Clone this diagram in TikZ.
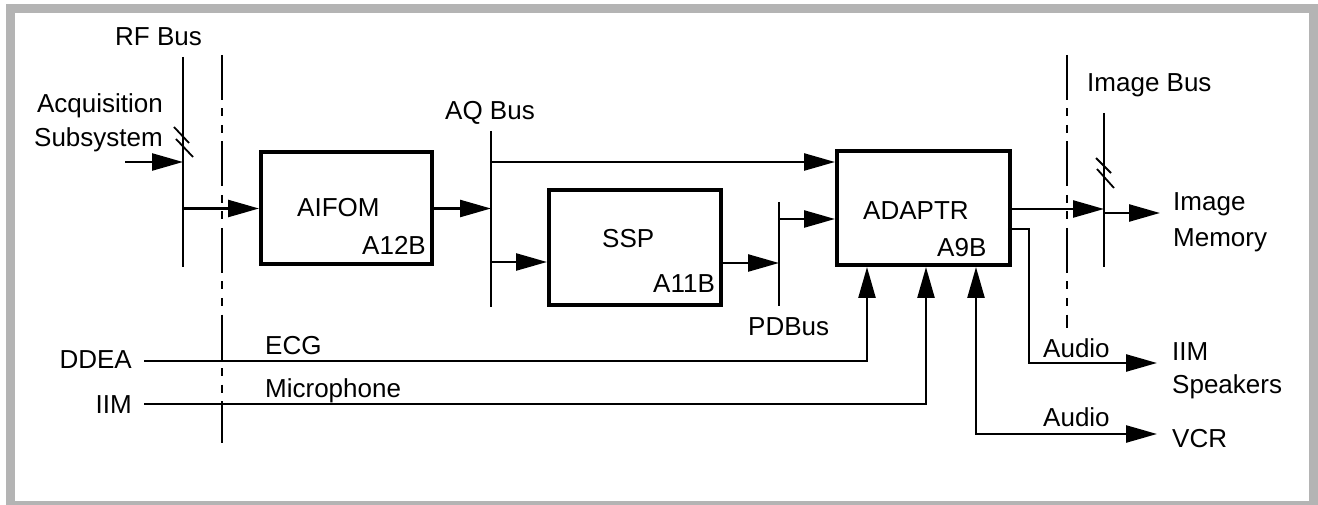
\documentclass[tikz,border=0pt]{standalone}
\usepackage{fontspec}
\setmainfont{Liberation Sans}
\usetikzlibrary{arrows.meta}
\definecolor{framegray}{RGB}{180,180,180}
\begin{document}
\begin{tikzpicture}[x=1pt,y=-1pt,
  wire/.style={line width=2.5pt},
  arr/.style={wire,-{Triangle[length=31pt,width=17pt]}},
  box/.style={draw,line width=4pt,inner sep=0pt},
  lbl/.style={inner sep=0pt,font=\fontsize{26}{32}\selectfont},
  busline/.style={line width=2.5pt},
  dashdot/.style={line width=1.6pt,dash pattern=on 45pt off 8.5pt on 8pt off 8.5pt on 8pt off 8.5pt},
  slash/.style={line width=1.8pt}]
\useasboundingbox (0,0) rectangle (1318,505);
\draw[line width=9pt,framegray] (10,8.5) rectangle (1313.5,505);

% boxes
\node[box,minimum width=171pt,minimum height=112pt] (aifom) at (346.5,208.5) {};
\node[box,minimum width=172pt,minimum height=115pt] (ssp) at (635,247.5) {};
\node[box,minimum width=173pt,minimum height=114pt] (adaptr) at (923.5,208) {};
\node[lbl,anchor=base west] (taifom) at (297,217) {AIFOM};
\node[lbl,anchor=base west] (naifom) at (362,255) {A12B};
\node[lbl,anchor=base west] (tssp) at (602,248) {SSP};
\node[lbl,anchor=base west] (nssp) at (653,293) {A11B};
\node[lbl,anchor=base west] (tadaptr) at (863,220) {ADAPTR};
\node[lbl,anchor=base west] (nadaptr) at (937,257) {A9B};

% buses
\coordinate (rfT) at (183,57);
\coordinate (rfB) at (183,267);
\draw[busline] (rfT) -- (rfB);
\node[lbl,anchor=base west] (rflbl) at (115,46) {RF Bus};
\coordinate (aqT) at (491,131);
\coordinate (aqB) at (491,307);
\draw[busline] (aqT) -- (aqB);
\node[lbl,anchor=base west] (aqlbl) at (445,120) {AQ Bus};
\coordinate (pdT) at (779,202);
\coordinate (pdB) at (779,306);
\draw[busline] (pdT) -- (pdB);
\node[lbl,anchor=base west] (pdlbl) at (748,335) {PDBus};
\coordinate (imT) at (1104,113);
\coordinate (imB) at (1104,267);
\draw[busline] (imT) -- (imB);
\node[lbl,anchor=base west] (imlbl) at (1087,92) {Image Bus};

% dash-dot boundaries
\coordinate (ddLT) at (222,55);
\coordinate (ddLB) at (222,443);
\draw[dashdot] (ddLT) -- (ddLB);
\coordinate (ddRT) at (1067,55);
\coordinate (ddRB) at (1067,328);
\draw[dashdot] (ddRT) -- (ddRB);

% slashes
\draw[slash] (174,127) -- (189,143);
\draw[slash] (176,139) -- (193,157);
\draw[slash] (1096,158) -- (1111,173);
\draw[slash] (1097,169) -- (1114,188);

% acquisition input
\node[lbl,anchor=base east] (acq1) at (163,113) {Acquisition};
\node[lbl,anchor=base east] (acq2) at (163,147) {Subsystem};
\coordinate (acqin) at (125,162);
\draw[arr] (acqin) -- (acqin -| rfT);

% RF bus -> AIFOM
\draw[arr] (rfT |- aifom.west) -- (aifom.west);
% AIFOM -> AQ bus
\draw[arr] (aifom.east) -- (aifom.east -| aqT);
% AQ bus -> ADAPTR
\coordinate (aq1) at (491,162);
\draw[arr] (aq1) -- (aq1 -| adaptr.west);
% AQ bus -> SSP
\coordinate (aq2) at (491,262);
\draw[arr] (aq2) -- (aq2 -| ssp.west);
% SSP -> PD bus
\coordinate (ssp1) at (723,263);
\draw[arr] (ssp1) -- (ssp1 -| pdT);
% PD bus -> ADAPTR
\coordinate (pd1) at (779,219);
\draw[arr] (pd1) -- (pd1 -| adaptr.west);
% ADAPTR -> Image bus
\coordinate (ad1) at (1012,209);
\draw[arr] (ad1) -- (ad1 -| imT);
% Image bus -> Image Memory
\node[lbl,anchor=base west] (imem1) at (1173,211) {Image};
\node[lbl,anchor=base west] (imem2) at (1173,247) {Memory};
\coordinate (im1) at (1104,213);
\coordinate (im2) at (1160,213);
\draw[arr] (im1) -- (im2);

% DDEA / ECG
\node[lbl,anchor=base east] (ddea) at (132,368) {DDEA};
\node[lbl,anchor=base west] (ecg) at (265,354) {ECG};
\coordinate (ecgS) at (144,361);
\coordinate (ecgC) at (867,361);
\draw[arr] (ecgS) -- (ecgC) -- (ecgC |- adaptr.south);
% IIM / Microphone
\node[lbl,anchor=base east] (iim) at (132,413) {IIM};
\node[lbl,anchor=base west] (mic) at (265,397) {Microphone};
\coordinate (micS) at (144,404);
\coordinate (micC) at (926,404);
\draw[arr] (micS) -- (micC) -- (micC |- adaptr.south);

% Audio -> IIM speakers
\coordinate (au1) at (1012,229);
\coordinate (au2) at (1029,229);
\coordinate (au3) at (1029,363);
\coordinate (au4) at (1157,363);
\draw[arr] (au1) -- (au2) -- (au3) -- (au4);
\node[lbl,anchor=base west] (aud1) at (1043,357) {Audio};
\node[lbl,anchor=base west] (spk1) at (1172,360) {IIM};
\node[lbl,anchor=base west] (spk2) at (1172,393) {Speakers};

% Audio <-> VCR
\coordinate (vc1) at (976,434);
\coordinate (vc2) at (1157,434);
\draw[wire,{Triangle[length=31pt,width=17pt]}-{Triangle[length=31pt,width=17pt]}] (vc1 |- adaptr.south) -- (vc1) -- (vc2);
\node[lbl,anchor=base west] (aud2) at (1043,426) {Audio};
\node[lbl,anchor=base west] (vcr) at (1172,447) {VCR};
\end{tikzpicture}
\end{document}
